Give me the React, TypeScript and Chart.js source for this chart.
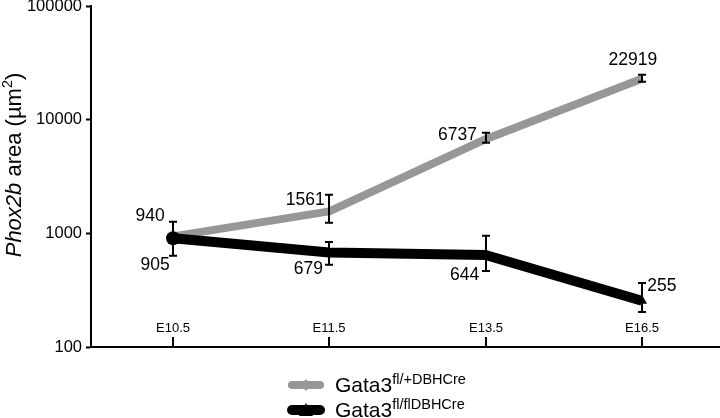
import React, { useEffect, useRef } from 'react';
import { Chart, registerables } from 'chart.js';

Chart.register(...registerables);

// ---- Data ----
const CATEGORIES = ['E10.5', 'E11.5', 'E13.5', 'E16.5'];
const HET_LABEL = ['Gata3', 'fl/+DBHCre'];
const KO_LABEL = ['Gata3', 'fl/flDBHCre'];
const HET_VALUES = [940, 1561, 6737, 22919];
const HET_LOW = [940, 1240, 6270, 21600];
const HET_HIGH = [940, 2180, 7680, 24900];
const KO_VALUES = [905, 679, 644, 255];
const KO_LOW = [635, 528, 467, 203];
const KO_HIGH = [1262, 841, 950, 366];
const Y_TICKS = [100, 1000, 10000, 100000];

// ---- Styles ----
const FONT = '"Liberation Sans", Arial, Helvetica, sans-serif';
const GREY = '#979797';
const BLACK = '#000000';
// label offsets (dx, dy) relative to each point, per series
const HET_LABEL_OFFSETS = [[-23, -20], [-24, -11], [-28, -4], [-9, -19]];
const KO_LABEL_OFFSETS = [[-18, 27], [-21, 17], [-21, 20], [20, -15]];

const overlay = {
  id: 'overlay',
  afterDatasetsDraw(chart: any) {
    const ctx: CanvasRenderingContext2D = chart.ctx;
    const xs = chart.scales.x;
    const ys = chart.scales.y;
    const area = chart.chartArea;
    ctx.save();
    // error bars
    ctx.strokeStyle = BLACK;
    ctx.lineWidth = 2;
    const bars = [
      [HET_LOW, HET_HIGH],
      [KO_LOW, KO_HIGH],
    ];
    bars.forEach(([lo, hi]) => {
      lo.forEach((l, i) => {
        const h = hi[i];
        if (h <= l) return;
        const x = Math.round(xs.getPixelForValue(i));
        const y1 = ys.getPixelForValue(l);
        const y2 = ys.getPixelForValue(h);
        ctx.beginPath();
        ctx.moveTo(x, y1);
        ctx.lineTo(x, y2);
        ctx.moveTo(x - 4, y1);
        ctx.lineTo(x + 4, y1);
        ctx.moveTo(x - 4, y2);
        ctx.lineTo(x + 4, y2);
        ctx.stroke();
      });
    });
    // data labels
    ctx.fillStyle = BLACK;
    ctx.font = `17.5px ${FONT}`;
    ctx.textAlign = 'center';
    ctx.textBaseline = 'middle';
    const series: [number[], number[][]][] = [
      [HET_VALUES, HET_LABEL_OFFSETS],
      [KO_VALUES, KO_LABEL_OFFSETS],
    ];
    series.forEach(([vals, offs]) => {
      vals.forEach((v, i) => {
        const x = xs.getPixelForValue(i);
        const y = ys.getPixelForValue(v);
        ctx.fillText(String(v), x + offs[i][0], y + offs[i][1]);
      });
    });
    // category ticks (inside) and labels
    ctx.font = `13px ${FONT}`;
    ctx.textBaseline = 'alphabetic';
    CATEGORIES.forEach((c, i) => {
      const x = Math.round(xs.getPixelForValue(i));
      ctx.beginPath();
      ctx.moveTo(x, area.bottom - 10);
      ctx.lineTo(x, area.bottom);
      ctx.stroke();
      ctx.fillText(c, x, area.bottom - 15);
    });
    ctx.restore();
  },
  afterDraw(chart: any) {
    const ctx: CanvasRenderingContext2D = chart.ctx;
    const area = chart.chartArea;
    ctx.save();
    // y title
    ctx.translate(21, 165);
    ctx.rotate(-Math.PI / 2);
    ctx.fillStyle = BLACK;
    ctx.textBaseline = 'alphabetic';
    ctx.textAlign = 'left';
    const parts: [string, string, number][] = [
      ['Phox2b', `italic 22px ${FONT}`, 0],
      [' area (\u00b5m', `22px ${FONT}`, 0],
      ['2', `14.5px ${FONT}`, -9],
      [')', `22px ${FONT}`, 0],
    ];
    let total = 0;
    parts.forEach(([t, f]) => {
      ctx.font = f;
      total += ctx.measureText(t).width;
    });
    let cx = -total / 2;
    parts.forEach(([t, f, dy]) => {
      ctx.font = f;
      ctx.fillText(t, cx, dy);
      cx += ctx.measureText(t).width;
    });
    ctx.restore();

    // legend
    ctx.save();
    const rows: [number, string, number, string, string[]][] = [
      [area.bottom + 38, GREY, 8, 'rectRot', HET_LABEL],
      [area.bottom + 63, BLACK, 10, 'triangle', KO_LABEL],
    ];
    rows.forEach(([y, color, w, style, label]) => {
      ctx.strokeStyle = color;
      ctx.fillStyle = color;
      ctx.lineWidth = w;
      ctx.lineCap = 'round';
      ctx.beginPath();
      ctx.moveTo(292, y);
      ctx.lineTo(320, y);
      ctx.stroke();
      ctx.beginPath();
      if (style === 'triangle') {
        ctx.moveTo(306, y - 7);
        ctx.lineTo(313, y + 6);
        ctx.lineTo(299, y + 6);
      } else {
        ctx.moveTo(306, y - 6);
        ctx.lineTo(311, y);
        ctx.lineTo(306, y + 6);
        ctx.lineTo(301, y);
      }
      ctx.closePath();
      ctx.fill();
      ctx.fillStyle = BLACK;
      ctx.textBaseline = 'alphabetic';
      ctx.textAlign = 'left';
      ctx.font = `21px ${FONT}`;
      ctx.fillText(label[0], 335, y + 7);
      const wMain = ctx.measureText(label[0]).width;
      ctx.font = `14.5px ${FONT}`;
      ctx.fillText(label[1], 335 + wMain, y - 1);
    });
    ctx.restore();
  },
};

export default function App() {
  const ref = useRef<HTMLCanvasElement | null>(null);
  useEffect(() => {
    if (!ref.current) return;
    Chart.defaults.font.family = FONT;
    const chart = new Chart(ref.current, {
      type: 'line',
      data: {
        labels: CATEGORIES,
        datasets: [
          {
            label: HET_LABEL.join(''),
            data: HET_VALUES.map((v, i) => ({ x: i, y: v })),
            borderColor: GREY,
            backgroundColor: GREY,
            borderWidth: 8,
            pointRadius: 0,
            pointStyle: 'rectRot',
            borderJoinStyle: 'round',
            tension: 0,
            order: 1,
            clip: false,
          },
          {
            label: KO_LABEL.join(''),
            data: KO_VALUES.map((v, i) => ({ x: i, y: v })),
            borderColor: BLACK,
            backgroundColor: BLACK,
            borderWidth: 10,
            pointRadius: [7, 0, 0, 6],
            pointStyle: ['circle', 'circle', 'circle', 'triangle'],
            pointBorderWidth: 0,
            borderJoinStyle: 'round',
            tension: 0,
            order: 0,
            clip: false,
          },
        ],
      } as any,
      options: {
        responsive: false,
        animation: false,
        devicePixelRatio: 1,
        layout: { autoPadding: false, padding: { top: 6, right: 0, bottom: 71, left: 0 } },
        plugins: {
          legend: { display: false },
          tooltip: { enabled: false },
          title: { display: false },
        },
        scales: {
          x: {
            type: 'linear',
            min: -0.525,
            max: 3.5,
            grid: { display: false },
            ticks: { display: false },
            border: { display: true, color: BLACK, width: 2 },
            afterFit: (s: any) => {
              s.height = 0;
              s.paddingLeft = 0;
              s.paddingRight = 0;
            },
          },
          y: {
            type: 'logarithmic',
            min: 100,
            max: 100000,
            afterBuildTicks: (s: any) => {
              s.ticks = Y_TICKS.map((v) => ({ value: v, major: true }));
            },
            afterFit: (s: any) => {
              s.width = 91;
              s.paddingTop = 0;
              s.paddingBottom = 0;
            },
            ticks: {
              color: BLACK,
              font: { size: 16.5, family: FONT },
              padding: 4,
              autoSkip: false,
              callback: (v: any) => String(v),
            },
            grid: {
              display: true,
              drawOnChartArea: false,
              drawTicks: true,
              tickLength: 5,
              tickWidth: 2,
              tickColor: BLACK,
            },
            border: { display: true, color: BLACK, width: 2 },
          },
        },
      } as any,
      plugins: [overlay],
    });
    return () => chart.destroy();
  }, []);
  return (
    <div style={{ position: 'fixed', left: 0, top: 0, width: 720, height: 418, background: '#fff' }}>
      <canvas ref={ref} width={720} height={418} style={{ display: 'block' }} />
    </div>
  );
}
